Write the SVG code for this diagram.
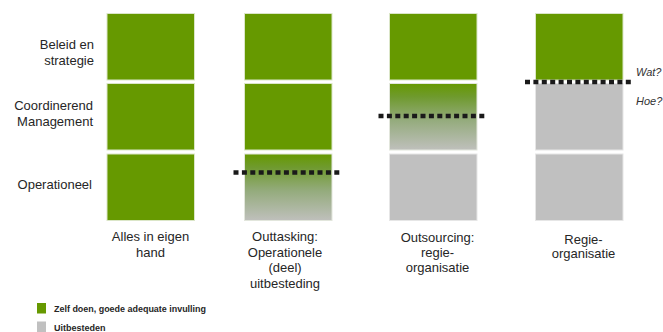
<svg xmlns="http://www.w3.org/2000/svg" width="663" height="332" viewBox="0 0 663 332">
  <style>
    .lbl { font-family: "Liberation Sans", Arial, sans-serif; font-size: 13px; fill: #262626; }
    .row { text-anchor: end; }
    .col { text-anchor: middle; }
    .q { font-family: "Liberation Sans", Arial, sans-serif; font-size: 11px; font-style: italic; fill: #333333; }
    .leg { font-family: "Liberation Sans", Arial, sans-serif; font-size: 9px; font-weight: bold; fill: #262626; }
    .own { fill: #669900; stroke: #dbe6c8; stroke-width: 1; }
    .out { fill: #c0c0c0; stroke: #e6e6e6; stroke-width: 1; }
    .mix { fill: url(#fade); stroke: #e2e6dc; stroke-width: 1; }
    .cut { stroke: #1a1a1a; stroke-width: 4.5; stroke-dasharray: 5 3.4; fill: none; }
  </style>
  <defs>
    <linearGradient id="fade" x1="0" y1="0" x2="0" y2="1">
      <stop offset="0" stop-color="#669900"/>
      <stop offset="0.2" stop-color="#6f9a2e"/>
      <stop offset="0.55" stop-color="#94ab7c"/>
      <stop offset="1" stop-color="#bfc0bc"/>
    </linearGradient>
  </defs>
  <rect width="663" height="332" fill="#ffffff"/>

  <!-- level labels -->
  <g id="levels">
    <text class="lbl row" x="94" y="48.5">Beleid en</text>
    <text class="lbl row" x="94" y="64.5">strategie</text>
    <text class="lbl row" x="93" y="110">Coordinerend</text>
    <text class="lbl row" x="93" y="125.5">Management</text>
    <text class="lbl row" x="92" y="188.5">Operationeel</text>
  </g>

  <!-- column 1: everything in-house -->
  <g id="col-eigen-hand">
    <rect class="own" x="107" y="13.5" width="87.5" height="66.5"/>
    <rect class="own" x="107" y="83.5" width="87.5" height="66.5"/>
    <rect class="own" x="107" y="154" width="87.5" height="66.5"/>
    <text class="lbl col" x="150.5" y="241">Alles in eigen</text>
    <text class="lbl col" x="150.5" y="257">hand</text>
  </g>

  <!-- column 2: outtasking -->
  <g id="col-outtasking">
    <rect class="own" x="244.5" y="13.5" width="87.5" height="66.5"/>
    <rect class="own" x="244.5" y="83.5" width="87.5" height="66.5"/>
    <rect class="mix" x="244.5" y="154" width="87.5" height="66.5"/>
    <text class="lbl col" x="285" y="241">Outtasking:</text>
    <text class="lbl col" x="285" y="256.7">Operationele</text>
    <text class="lbl col" x="285" y="272.4">(deel)</text>
    <text class="lbl col" x="285" y="288">uitbesteding</text>
  </g>

  <!-- column 3: outsourcing -->
  <g id="col-outsourcing">
    <rect class="own" x="389.5" y="13.5" width="87.5" height="66.5"/>
    <rect class="mix" x="389.5" y="83.5" width="87.5" height="66.5"/>
    <rect class="out" x="389.5" y="154" width="87.5" height="66.5"/>
    <text class="lbl col" x="437.5" y="242">Outsourcing:</text>
    <text class="lbl col" x="437.5" y="257">regie-</text>
    <text class="lbl col" x="437.5" y="272">organisatie</text>
  </g>

  <!-- column 4: regie-organisatie -->
  <g id="col-regie">
    <rect class="own" x="535.5" y="13.5" width="87.5" height="66.5"/>
    <rect class="out" x="535.5" y="83.5" width="87.5" height="66.5"/>
    <rect class="out" x="535.5" y="154" width="87.5" height="66.5"/>
    <text class="lbl col" x="583.5" y="243.5">Regie-</text>
    <text class="lbl col" x="583.5" y="258">organisatie</text>
    <text class="q" x="636" y="76">Wat?</text>
    <text class="q" x="636" y="105">Hoe?</text>
  </g>

  <!-- boundary lines between in-house and outsourced -->
  <g id="connectors">
    <line class="cut" x1="233.5" y1="172.5" x2="341" y2="172.5"/>
    <line class="cut" x1="378.5" y1="116" x2="487" y2="116"/>
    <line class="cut" x1="525" y1="82" x2="632" y2="82"/>
  </g>

  <!-- legend -->
  <g id="legend">
    <rect x="37" y="303" width="9" height="10.5" fill="#669900"/>
    <text class="leg" x="54" y="312" textLength="152" lengthAdjust="spacingAndGlyphs">Zelf doen, goede adequate invulling</text>
    <rect x="37" y="321.5" width="9" height="10.5" fill="#c0c0c0"/>
    <text class="leg" x="54" y="331">Uitbesteden</text>
  </g>
</svg>
